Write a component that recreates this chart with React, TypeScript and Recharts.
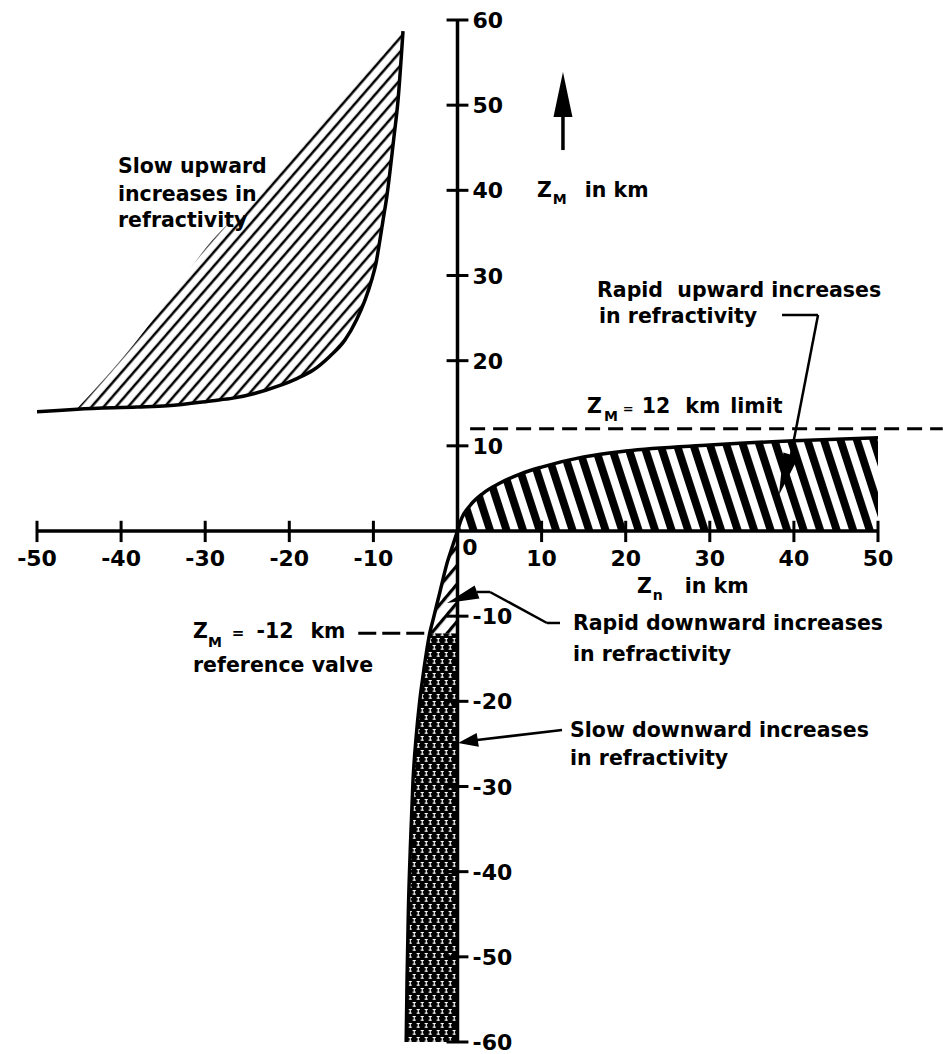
import React from 'react';
import { ComposedChart, Area, Line, XAxis, YAxis, ReferenceLine, ReferenceDot } from 'recharts';

// ---------- data (km) ----------
// "Slow upward increases" region: x samples with lower (curve) and upper (straight edge) bounds
const slowUpX = [-45.2, -38.1, -34.5, -29.1, -26.7, -21.1, -19.1, -17.15, -15.2, -13.4, -12.0, -11.0, -10.2, -9.7, -9.22, -8.9, -8.4, -7.6, -7.07, -6.48];
const slowUpLower = [14.3, 14.55, 14.7, 15.3, 15.6, 17.1, 17.9, 18.9, 20.5, 22.4, 24.8, 27.1, 29.5, 31.4, 34.2, 36.2, 39.3, 45.9, 50.6, 58.7];
const slowUpUpper = [14.4, 22.4, 27.1, 34.2, 36.7, 42.4, 44.6, 46.7, 48.9, 50.95, 52.5, 53.6, 54.5, 55.0, 55.6, 55.9, 56.5, 57.4, 58.0, 58.7];
// boundary curve of that region, with its tail to the left edge
const slowUpCurveX = [-50, -47.5, -45.2, -38.1, -34.5, -29.1, -26.7, -21.1, -19.1, -17.15, -15.2, -13.4, -12.0, -11.0, -10.2, -9.7, -9.22, -8.9, -8.4, -7.6, -7.07, -6.48];
const slowUpCurveY = [14.0, 14.15, 14.3, 14.55, 14.7, 15.3, 15.6, 17.1, 17.9, 18.9, 20.5, 22.4, 24.8, 27.1, 29.5, 31.4, 34.2, 36.2, 39.3, 45.9, 50.6, 58.7];

// "Rapid upward increases" region (top boundary, base is Z = 0)
const rapidUpX = [0, 0.5, 1.5, 3, 5, 7.5, 10, 15, 20, 30, 40, 50];
const rapidUpY = [0, 1.5, 3.0, 4.4, 5.6, 6.7, 7.5, 8.7, 9.4, 10.1, 10.6, 10.95];

// downward boundary curve (left edge of lower region)
const downX = [-6.1, -6.0, -5.85, -5.6, -5.3, -4.9, -4.5, -4.1, -3.7, -3.3, -2.9, -2.1, -1.25, -0.6, 0];
const downY = [-60, -52.7, -45, -37, -29.5, -24, -20, -17, -14.3, -12, -10.4, -7.2, -3.8, -1.8, 0];

// slow downward (stippled) part: below the -12 km reference value
const slowDownX = [-6.1, -6.0, -5.85, -5.6, -5.3, -4.9, -4.5, -4.1, -3.7, -3.3, 0];
const slowDownTop = [-60, -52.7, -45, -37, -29.5, -24, -20, -17, -14.3, -12, -12];
// rapid downward (hatched) part: above the -12 km reference value
const rapidDownX = [-3.3, -2.9, -2.1, -1.25, -0.6, 0];
const rapidDownTop = [-12, -10.4, -7.2, -3.8, -1.8, 0];

const xTicks = [-50, -40, -30, -20, -10, 10, 20, 30, 40, 50];
const yTicks = [60, 50, 40, 30, 20, 10, -10, -20, -30, -40, -50, -60];

const zip = (xs: number[], ys: number[]) => xs.map((x, i) => ({ x, y: ys[i] }));
const zipRange = (xs: number[], lo: number[], hi: number[]) => xs.map((x, i) => ({ x, r: [lo[i], hi[i]] }));

const FONT = '"DejaVu Sans", "Liberation Sans", sans-serif';
const FS = 20.5;
const tStyle = (size: number): React.CSSProperties => ({ fontFamily: FONT, fontWeight: 700, fontSize: size, fill: '#000' });

const textShape = (text: string, dx = 0, dy = 0, size = FS, anchor: 'start' | 'middle' | 'end' = 'start') => (p: any) => (
  <text x={(p.cx ?? 0) + dx} y={(p.cy ?? 0) + dy} textAnchor={anchor} style={{ ...tStyle(size), whiteSpace: 'pre' }}>{text}</text>
);

const arrowHead = (dx: number, dy: number, len: number, hw: number) => (p: any) => {
  const n = Math.hypot(dx, dy);
  const ux = dx / n, uy = dy / n;
  const cx = p.cx ?? 0, cy = p.cy ?? 0;
  const bx = cx - ux * len, by = cy - uy * len;
  const px = -uy * hw, py = ux * hw;
  return <polygon points={`${cx},${cy} ${bx + px},${by + py} ${bx - px},${by - py}`} fill="#000" />;
};

const ZmInKm = (p: any) => (
  <text x={p.cx} y={p.cy} style={tStyle(FS)}>
    Z<tspan dx={1} dy={7} fontSize={14}>M</tspan><tspan dx={18} dy={-7} fontSize={FS}>in km</tspan>
  </text>
);
const ZmLimit = (p: any) => (
  <text x={p.cx} y={p.cy} style={tStyle(FS)}>
    Z<tspan dx={2} dy={8} fontSize={14}>M</tspan>
    <tspan dx={5} dy={-8} fontSize={13}>=</tspan>
    <tspan dx={8} fontSize={FS}>12</tspan>
    <tspan dx={15} fontSize={FS}>km</tspan>
    <tspan dx={10} fontSize={FS}>limit</tspan>
  </text>
);
const ZnInKm = (p: any) => (
  <text x={p.cx} y={p.cy} style={tStyle(FS)}>
    Z<tspan dx={1} dy={7} fontSize={14}>n</tspan><tspan dx={22} dy={-7} fontSize={FS}>in km</tspan>
  </text>
);
const ZmMinus12 = (p: any) => (
  <text x={p.cx} y={p.cy} style={tStyle(FS)}>
    Z<tspan dx={0} dy={9} fontSize={14}>M</tspan>
    <tspan dx={10} dy={-9} fontSize={15}>=</tspan>
    <tspan dx={12} fontSize={FS}>-12</tspan>
    <tspan dx={17} fontSize={FS}>km</tspan>
  </text>
);

export default function App() {
  const slowUp = zipRange(slowUpX, slowUpLower, slowUpUpper);
  const slowUpCurve = zip(slowUpCurveX, slowUpCurveY);
  const rapidUp = zip(rapidUpX, rapidUpY);
  const downCurve = zip(downX, downY);
  const slowDown = zip(slowDownX, slowDownTop);
  const rapidDown = zip(rapidDownX, rapidDownTop);

  return (
    <div style={{ position: 'absolute', left: 0, top: 0, width: 943, height: 1054, background: '#fff' }}>
      <ComposedChart width={943} height={1054} margin={{ top: 20, right: 65, bottom: 12, left: 37 }}>
        <defs>
          <pattern id="thinHatch" patternUnits="userSpaceOnUse" width={9.2} height={20} patternTransform="rotate(41)">
            <rect x={0} y={0} width={9.2} height={20} fill="#fff" />
            <rect x={3.5} y={0} width={2.5} height={20} fill="#000" />
          </pattern>
          <pattern id="thickStripe" patternUnits="userSpaceOnUse" width={15.7} height={20} patternTransform="rotate(-18)">
            <rect x={0} y={0} width={15.7} height={20} fill="#fff" />
            <rect x={0} y={0} width={7.8} height={20} fill="#000" />
          </pattern>
          <pattern id="lowHatch" patternUnits="userSpaceOnUse" width={12} height={20} patternTransform="rotate(40)">
            <rect x={0} y={0} width={12} height={20} fill="#fff" />
            <rect x={4} y={0} width={3.2} height={20} fill="#000" />
          </pattern>
          <pattern id="stipple" patternUnits="userSpaceOnUse" width={8} height={14}>
            <rect x={0} y={0} width={8} height={14} fill="#000" />
            <rect x={0.6} y={1} width={3.2} height={1.1} fill="#fff" />
            <rect x={1.7} y={1} width={1.1} height={4.5} fill="#fff" />
            <rect x={0.6} y={4.6} width={3.2} height={1.1} fill="#fff" />
            <rect x={4.6} y={8} width={3.2} height={1.1} fill="#fff" />
            <rect x={5.7} y={8} width={1.1} height={4.5} fill="#fff" />
            <rect x={4.6} y={11.6} width={3.2} height={1.1} fill="#fff" />
          </pattern>
        </defs>

        <XAxis type="number" dataKey="x" domain={[-50, 50]} allowDataOverflow hide />
        <YAxis type="number" domain={[-60, 60]} allowDataOverflow hide />

        <Area data={slowUp} dataKey="r" type="monotone" stroke="none" fill="url(#thinHatch)" fillOpacity={1} isAnimationActive={false} dot={false} activeDot={false} />
        <Area data={rapidUp} dataKey="y" type="monotone" baseValue={0} stroke="none" fill="url(#thickStripe)" fillOpacity={1} isAnimationActive={false} dot={false} activeDot={false} />
        <Area data={slowDown} dataKey="y" type="linear" baseValue={-60} stroke="none" fill="url(#stipple)" fillOpacity={1} isAnimationActive={false} dot={false} activeDot={false} />
        <Area data={rapidDown} dataKey="y" type="linear" baseValue={-12} stroke="none" fill="url(#lowHatch)" fillOpacity={1} isAnimationActive={false} dot={false} activeDot={false} />

        <Line data={slowUpCurve} dataKey="y" type="monotone" stroke="#000" strokeWidth={3.5} dot={false} activeDot={false} isAnimationActive={false} />
        <Line data={rapidUp} dataKey="y" type="monotone" stroke="#000" strokeWidth={3.5} dot={false} activeDot={false} isAnimationActive={false} />
        <Line data={downCurve} dataKey="y" type="monotone" stroke="#000" strokeWidth={3.5} dot={false} activeDot={false} isAnimationActive={false} />

        {/* axes */}
        <ReferenceLine segment={[{ x: -50, y: 0 }, { x: 50, y: 0 }]} stroke="#000" strokeWidth={3.5} ifOverflow="visible" />
        <ReferenceLine segment={[{ x: 0, y: -60 }, { x: 0, y: 60 }]} stroke="#000" strokeWidth={3.5} ifOverflow="visible" />
        {xTicks.map((v) => (
          <ReferenceLine key={'xt' + v} segment={[{ x: v, y: -1.3 }, { x: v, y: 1.2 }]} stroke="#000" strokeWidth={3} ifOverflow="visible" />
        ))}
        {yTicks.map((v) => (
          <ReferenceLine key={'yt' + v} segment={[{ x: -1.3, y: v }, { x: 1.3, y: v }]} stroke="#000" strokeWidth={3} ifOverflow="visible" />
        ))}
        {xTicks.map((v) => (
          <ReferenceDot key={'xl' + v} x={v} y={0} r={0} ifOverflow="visible" shape={textShape(String(v), 0, 35, 22, 'middle')} />
        ))}
        {yTicks.map((v) => (
          <ReferenceDot key={'yl' + v} x={0} y={v} r={0} ifOverflow="visible" shape={textShape(String(v), 15, 8, 22, 'start')} />
        ))}
        <ReferenceDot x={0} y={0} r={0} ifOverflow="visible" shape={textShape('0', 12.5, 24, 22, 'middle')} />

        {/* reference limits */}
        <ReferenceLine segment={[{ x: 1.5, y: 12 }, { x: 57.7, y: 12 }]} stroke="#000" strokeWidth={3} strokeDasharray="15 8" ifOverflow="visible" />
        <ReferenceLine segment={[{ x: -11.8, y: -12 }, { x: -3.5, y: -12 }]} stroke="#000" strokeWidth={3} strokeDasharray="18 6" ifOverflow="visible" />

        {/* labels */}
        <ReferenceDot x={-40.37} y={42.03} r={0} ifOverflow="visible" shape={textShape('Slow upward')} />
        <ReferenceDot x={-40.37} y={38.75} r={0} ifOverflow="visible" shape={textShape('increases in')} />
        <ReferenceDot x={-40.37} y={35.69} r={0} ifOverflow="visible" shape={textShape('refractivity')} />

        <ReferenceDot x={9.45} y={39.22} r={0} ifOverflow="visible" shape={ZmInKm} />
        <ReferenceLine segment={[{ x: 12.54, y: 44.73 }, { x: 12.54, y: 49.0 }]} stroke="#000" strokeWidth={3.5} ifOverflow="visible" />
        <ReferenceDot x={12.54} y={53.89} r={0} ifOverflow="visible" shape={arrowHead(0, -1, 45, 9.5)} />

        <ReferenceDot x={16.59} y={27.47} r={0} ifOverflow="visible" shape={textShape('Rapid  upward increases')} />
        <ReferenceDot x={16.83} y={24.42} r={0} ifOverflow="visible" shape={textShape('in refractivity')} />
        <ReferenceLine segment={[{ x: 38.59, y: 25.36 }, { x: 42.87, y: 25.36 }]} stroke="#000" strokeWidth={2.5} ifOverflow="visible" />
        <ReferenceLine segment={[{ x: 42.87, y: 25.36 }, { x: 39.65, y: 8.92 }]} stroke="#000" strokeWidth={2.5} ifOverflow="visible" />
        <ReferenceDot x={38.22} y={4.23} r={0} ifOverflow="visible" shape={arrowHead(-12, 40, 42, 8)} />

        <ReferenceDot x={15.4} y={13.85} r={0} ifOverflow="visible" shape={ZmLimit} />
        <ReferenceDot x={21.34} y={-7.28} r={0} ifOverflow="visible" shape={ZnInKm} />

        <ReferenceDot x={-31.45} y={-12.56} r={0} ifOverflow="visible" shape={ZmMinus12} />
        <ReferenceDot x={-31.45} y={-16.55} r={0} ifOverflow="visible" shape={textShape('reference valve')} />

        <ReferenceDot x={13.73} y={-11.62} r={0} ifOverflow="visible" shape={textShape('Rapid downward increases')} />
        <ReferenceDot x={13.73} y={-15.26} r={0} ifOverflow="visible" shape={textShape('in refractivity')} />
        <ReferenceLine segment={[{ x: 12.19, y: -10.8 }, { x: 10.64, y: -10.8 }]} stroke="#000" strokeWidth={2.5} ifOverflow="visible" />
        <ReferenceLine segment={[{ x: 10.64, y: -10.8 }, { x: 3.86, y: -7.16 }]} stroke="#000" strokeWidth={2.5} ifOverflow="visible" />
        <ReferenceLine segment={[{ x: 3.86, y: -7.16 }, { x: 2.32, y: -7.16 }]} stroke="#000" strokeWidth={2.5} ifOverflow="visible" />
        <ReferenceDot x={-1.25} y={-8.45} r={0} ifOverflow="visible" shape={arrowHead(-30, 11, 32, 7)} />

        <ReferenceDot x={13.38} y={-24.19} r={0} ifOverflow="visible" shape={textShape('Slow downward increases')} />
        <ReferenceDot x={13.38} y={-27.47} r={0} ifOverflow="visible" shape={textShape('in refractivity')} />
        <ReferenceLine segment={[{ x: 12.43, y: -23.37 }, { x: 2.32, y: -24.54 }]} stroke="#000" strokeWidth={2.5} ifOverflow="visible" />
        <ReferenceDot x={0.06} y={-24.89} r={0} ifOverflow="visible" shape={arrowHead(-19, 3, 20, 7)} />
      </ComposedChart>
    </div>
  );
}
